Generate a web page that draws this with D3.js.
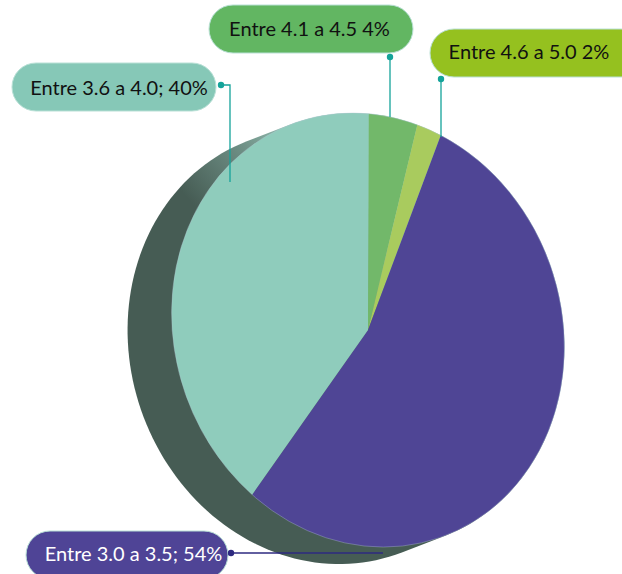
<!DOCTYPE html>
<html>
<head>
<meta charset="utf-8">
<script src="https://cdn.jsdelivr.net/npm/d3@7"></script>
<style>
  html,body{margin:0;padding:0;background:#fff;}
  svg{display:block;}
</style>
</head>
<body>
<div class="canvas"></div>
<script>
// data (slices clockwise from the top)
const categories=['Entre 4.1 a 4.5','Entre 4.6 a 5.0','Entre 3.0 a 3.5','Entre 3.6 a 4.0'];
const values=[4,2,54,40];
const labels=['Entre 4.1 a 4.5 4%','Entre 4.6 a 5.0 2%','Entre 3.0 a 3.5; 54%','Entre 3.6 a 4.0; 40%'];
const sliceColors=['#72b86a','#a9cb5e','#4f4595','#8fccbc'];

const W=622,H=574;
const svg=d3.select('.canvas')
  .append('svg')
    .attr('width',W)
    .attr('height',H);

// tilted ellipse for the pie face + the depth offset of the side
const cx=368,cy=330,ax=193.5,by=219.7,tilt=-19,R=100;
const depth=[-44,17];
const startA=21.5*Math.PI/180;

const rad=tilt*Math.PI/180;
function ellipsePt(t){
  const px=ax*Math.sin(t),py=-by*Math.cos(t);
  return [cx+px*Math.cos(rad)-py*Math.sin(rad), cy+px*Math.sin(rad)+py*Math.cos(rad)];
}

const defs=svg.append('defs');
const grad=defs.append('linearGradient')
  .attr('id','sideGrad')
  .attr('gradientUnits','userSpaceOnUse')
  .attr('x1',300).attr('y1',118)
  .attr('x2',196).attr('y2',208);
grad.append('stop').attr('offset',0).attr('stop-color','#9ccabd');
grad.append('stop').attr('offset',0.45).attr('stop-color','#6f9086');
grad.append('stop').attr('offset',1).attr('stop-color','#465c54');

// side of the pie: hull of front and pushed-back ellipse
const pts=[];
d3.range(0,360,2).forEach(d=>{
  const p=ellipsePt(d*Math.PI/180);
  pts.push(p);
  pts.push([p[0]+depth[0],p[1]+depth[1]]);
});
const hull=d3.polygonHull(pts);
svg.append('path')
  .attr('d','M'+hull.join('L')+'Z')
  .attr('fill','url(#sideGrad)');

// face
const pie=d3.pie().sort(null).startAngle(startA).endAngle(startA+2*Math.PI);
const arc=d3.arc().innerRadius(0).outerRadius(R);
const face=svg.append('g')
  .attr('transform',`translate(${cx},${cy}) rotate(${tilt}) scale(${ax/R},${by/R})`);
face.selectAll('path')
  .data(pie(values))
  .enter()
  .append('path')
    .attr('d',arc)
    .attr('fill',(d,i)=>sliceColors[i]);
face.append('ellipse')
  .attr('rx',R).attr('ry',R)
  .attr('fill','none')
  .attr('stroke','#b7c9d6')
  .attr('stroke-width',0.5)
  .attr('vector-effect','non-scaling-stroke')
  .attr('opacity',0.7);

// labels (pill boxes + leader lines)
const pills=[
  {x:209,y:5,w:204,fill:'#62b662',tx:309.5,ty:36,col:'#111',line:[[390,57],[390,117]],dot:'#14a39a'},
  {x:430,y:29,w:215,fill:'#95c11f',tx:529,ty:59,col:'#111',line:[[441,79],[441,137]],dot:'#14a39a'},
  {x:26,y:531,w:202,fill:'#4f4496',tx:133.5,ty:561,col:'#fff',line:[[231,553],[383,553]],dot:'#2e2a80'},
  {x:12,y:63,w:204,fill:'#86c8b7',tx:119,ty:95,col:'#111',line:[[221,85],[230,85],[230,182]],dot:'#14a39a'}
];
const lab=svg.append('g').selectAll('g')
  .data(pills)
  .enter()
  .append('g');
lab.append('rect')
  .attr('x',d=>d.x).attr('y',d=>d.y)
  .attr('width',d=>d.w).attr('height',48)
  .attr('rx',24).attr('ry',24)
  .attr('fill',d=>d.fill)
  .attr('stroke','#b9e0d6')
  .attr('stroke-width',1);
lab.append('text')
  .attr('x',d=>d.tx).attr('y',d=>d.ty)
  .attr('text-anchor','middle')
  .attr('font-family','Lato, "Open Sans", sans-serif')
  .attr('font-size',20)
  .attr('fill',d=>d.col)
  .text((d,i)=>labels[i]);
lab.append('path')
  .attr('d',d=>'M'+d.line.join('L'))
  .attr('fill','none')
  .attr('stroke',d=>d.dot)
  .attr('stroke-width',1.3);
lab.append('circle')
  .attr('cx',d=>d.line[0][0]).attr('cy',d=>d.line[0][1])
  .attr('r',3.2)
  .attr('fill',d=>d.dot);
</script>
</body>
</html>
